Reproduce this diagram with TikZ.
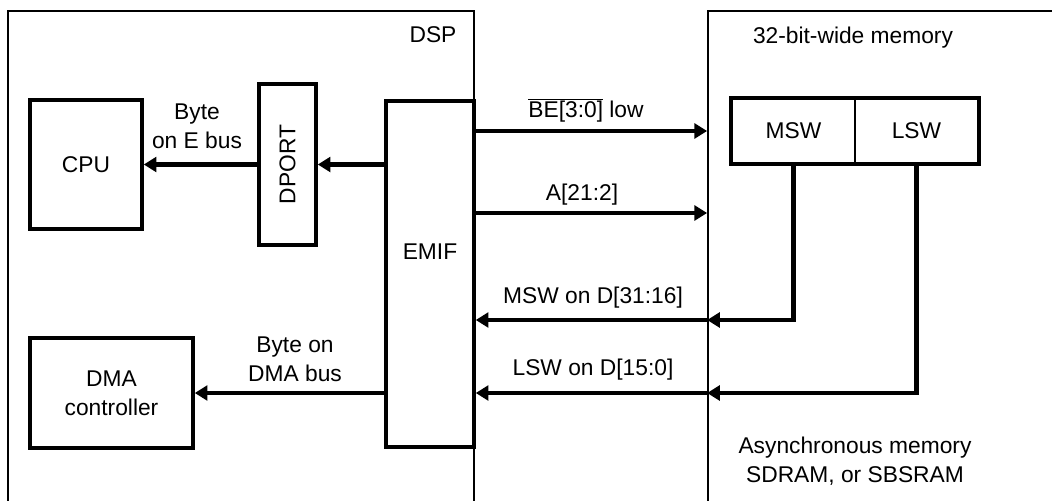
\documentclass[tikz,border=0pt]{standalone}
\usepackage{fontspec}
\setmainfont{Liberation Sans}
\usetikzlibrary{arrows.meta}

\tikzset{
  chip/.style={draw, line width=1.2pt, inner sep=0pt},
  unit/.style={draw, line width=2.5pt, inner sep=0pt, align=center},
  word/.style={draw, line width=1.2pt, inner sep=0pt, minimum width=3.075cm, minimum height=1.6cm},
  bus/.style={line width=3.2pt, -{Triangle[length=9pt,width=10.5pt]}},
  txt/.style={align=center, inner sep=0pt}
}

\begin{document}
\begin{tikzpicture}[x=0.025cm, y=-0.025cm, font=\fontsize{16.2}{20.5}\selectfont]
\clip (0,0) rectangle (1052,500);

% The two devices, running off the page.
\node[chip, minimum width=11.65cm, minimum height=12.35cm] (dsp) at (241,258) {};
\node[chip, minimum width=8.8cm, minimum height=12.35cm] (mem) at (884,258) {};

\node[txt] (dsplbl) at (433,35) {DSP};
\node[txt] (memlbl) at (853,38) {32-bit-wide memory};

% Units inside the DSP.
\node[unit, minimum width=2.8cm, minimum height=3.225cm] (cpu) at (86,164.5) {CPU};
\node[unit, minimum width=1.425cm, minimum height=4.025cm] (dport) at (287.5,164.5) {\rotatebox{90}{DPORT}};
\node[unit, minimum width=4.075cm, minimum height=2.75cm] (dma) at (111.5,393) {DMA\\controller};
\node[unit, minimum width=2.2cm, minimum height=8.65cm] (emif) at (430,274) {};
\node[txt] (emiflbl) at (430,252) {EMIF};

% The words of the memory.
\node[word] (msw) at (793.5,131) {MSW};
\node[word] (lsw) at (916.5,131) {LSW};
\draw[line width=2.5pt] (msw.north west) rectangle (lsw.south east);

% Rows of the buses.
\coordinate (addr) at (0,213);
\coordinate (mswd) at (0,320);
\coordinate (lswd) at (0,393);

% Buses inside the DSP.
\draw[bus] (dport.west) -- (cpu.east);
\draw[bus] (emif.west |- dport) -- (dport.east);
\draw[bus] (emif.west |- dma) -- (dma.east);

\node[txt] (ebus) at (197,126) {Byte\\on E bus};
\node[txt] (dmabus) at (295,359) {Byte on\\DMA bus};

% Buses to and from the memory.
\draw[bus] (emif.east |- msw) -- (mem.west |- msw);
\draw[bus] (emif.east |- addr) -- (mem.west |- addr);
\draw[bus] (msw.south) |- (mem.west |- mswd);
\draw[bus] (mem.west |- mswd) -- (emif.east |- mswd);
\draw[bus] (lsw.south) |- (mem.west |- lswd);
\draw[bus] (mem.west |- lswd) -- (emif.east |- lswd);

\node[txt] (belbl) at (586,110) {$\overline{\mbox{BE[3:0]}}$ low};
\node[txt] (albl) at (582,195) {A[21:2]};
\node[txt] (mswlbl) at (593,298) {MSW on D[31:16]};
\node[txt] (lswlbl) at (593,370) {LSW on D[15:0]};

\node[txt] (asynclbl) at (855,461) {Asynchronous memory\\SDRAM, or SBSRAM};
\end{tikzpicture}
\end{document}
